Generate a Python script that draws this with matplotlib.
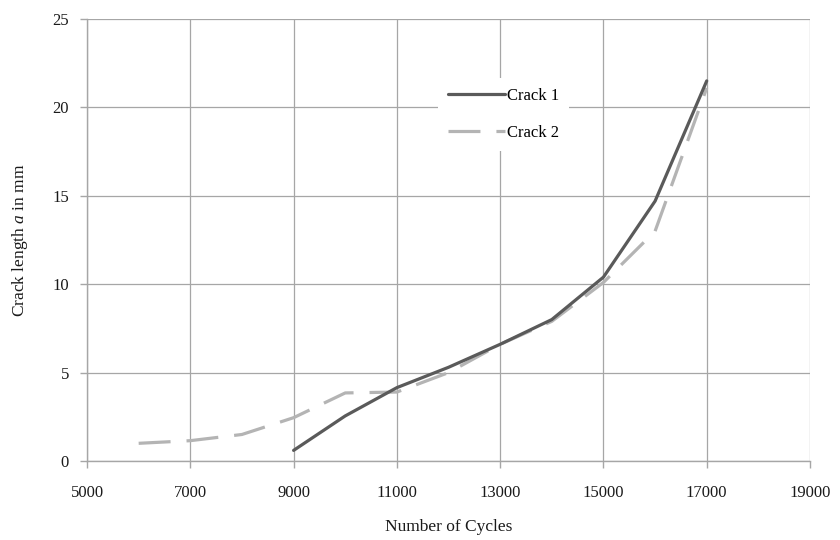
import numpy as np
from matplotlib import pyplot as plt

# cycles and crack lengths
cycles_1 = [9000, 10000, 11000, 12000, 13000, 14000, 15000, 16000, 17000]
crack_1 = [0.6, 2.55, 4.15, 5.3, 6.6, 8.0, 10.4, 14.7, 21.5]

cycles_2 = [6000, 7000, 8000, 9000, 10000, 11000, 12000, 13000, 14000, 15000, 16000, 17000]
crack_2 = [1.0, 1.15, 1.5, 2.45, 3.85, 3.9, 5.0, 6.6, 7.9, 10.1, 13.0, 21.1]

x_ticks = [5000, 7000, 9000, 11000, 13000, 15000, 17000, 19000]
y_ticks = [0, 5, 10, 15, 20, 25]

plt.rcParams['font.family'] = ['Liberation Serif', 'DejaVu Serif']
plt.rcParams['mathtext.fontset'] = 'custom'
plt.rcParams['mathtext.it'] = 'Liberation Serif:italic'
plt.rcParams['mathtext.rm'] = 'Liberation Serif'

fig = plt.figure(figsize=(8.4, 5.4), dpi=100)
ax = fig.add_axes([0.1036, 0.1463, 0.8607, 0.8185])

grid_col = '#a6a6a6'
text_col = '#1a1a1a'

ax.plot(cycles_1, crack_1, color='#5a5a5a', lw=2.3, label='Crack 1',
        solid_capstyle='round', zorder=3)
ax.plot(cycles_2, crack_2, color='#b4b4b4', lw=2.3, label='Crack 2',
        linestyle=(0, (10, 5)), zorder=2)

ax.set_xlim(5000, 19000)
ax.set_ylim(0, 25)
ax.set_xticks(x_ticks)
ax.set_yticks(y_ticks)
ax.grid(True, color=grid_col, lw=0.9)
ax.set_axisbelow(True)

for side in ['top', 'right']:
    ax.spines[side].set_visible(False)
for side in ['left', 'bottom']:
    ax.spines[side].set_color(grid_col)
    ax.spines[side].set_linewidth(1.0)

ax.tick_params(axis='both', colors=grid_col, length=5, width=1.0, labelsize=12,
               labelcolor=text_col)
ax.tick_params(axis='x', pad=12)
ax.tick_params(axis='y', pad=8)

ax.set_xlabel('Number of Cycles', fontsize=12.5, labelpad=13, color=text_col)
ax.set_ylabel('Crack length $\\it{a}$ in mm', fontsize=12.5, labelpad=16, color=text_col)

leg = ax.legend(loc='upper left', bbox_to_anchor=(0.4855, 0.866), fontsize=12,
                frameon=True, fancybox=False, edgecolor='white', framealpha=1,
                handlelength=3.4, handletextpad=0.15, labelspacing=1.25,
                borderpad=0.6, borderaxespad=0)
leg.get_frame().set_linewidth(0)

fig.savefig('out.png', dpi=100)
